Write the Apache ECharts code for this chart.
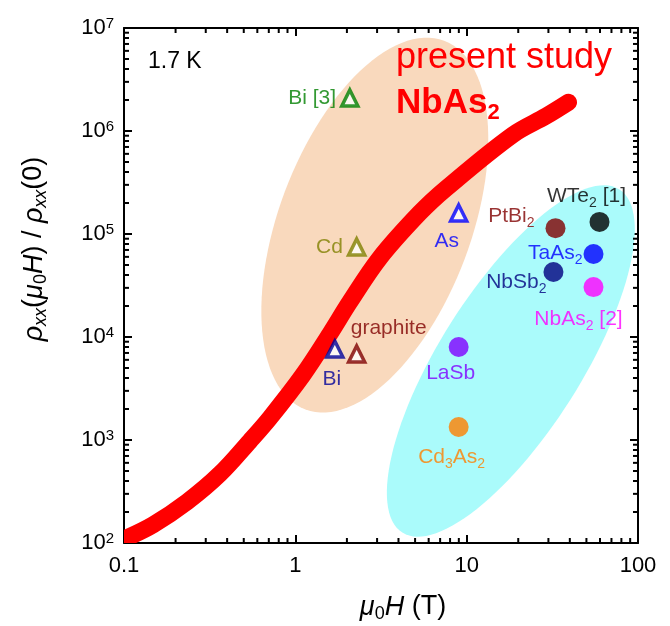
<!DOCTYPE html>
<html>
<head>
<meta charset="utf-8">
<script src="https://cdn.jsdelivr.net/npm/echarts@6/dist/echarts.min.js"></script>
<style>
  html, body { margin: 0; padding: 0; background: #fff; }
  #chart { width: 670px; height: 626px; }
</style>
</head>
<body>
<div id="chart"></div>
<script>
// Field sweep of NbAs2 at 1.7 K: magnetic field (T) and rho_xx(H)/rho_xx(0)
const sweepField = [0.1, 0.1476, 0.233, 0.363, 0.543, 0.71, 1.107, 1.59, 2.08, 3.11, 5.32, 7.64, 18.5, 29.2, 39.3];
const sweepRatio = [109, 150, 250, 468, 977, 1636, 4275, 10700, 21900, 58500, 160000, 280000, 914000, 1.4e6, 1.9e6];

// Semimetals from earlier reports (open triangles)
const triNames = ['Bi [3]', 'Cd', 'As', 'Bi', 'graphite'];
const triField = [2.08, 2.28, 8.98, 1.70, 2.28];
const triRatio = [2.09e6, 7.48e4, 1.6e5, 7640, 6840];

// Topological / Weyl semimetals (filled circles)
const dotNames = ['WTe{s|2} [1]', 'PtBi{s|2}', 'TaAs{s|2}', 'NbSb{s|2}', 'NbAs{s|2} [2]', 'LaSb', 'Cd{s|3}As{s|2}'];
const dotField = [59.6, 33.0, 55.0, 32.1, 55.0, 8.98, 8.98];
const dotRatio = [1.31e5, 1.14e5, 6.4e4, 4.28e4, 3.05e4, 8000, 1337];

// Shaded groupings: centre of each region
const regionField = [2.91, 18.1];
const regionRatio = [1.22e5, 5850];

// Axis tick labels
const xTickLabels = ['0.1', '1', '10', '100'];
const yTickExponents = ['2', '3', '4', '5', '6', '7'];
const minorMultipliers = [2, 3, 4, 5, 6, 7, 8, 9];
const xDecades = [0.1, 1, 10];
const yDecades = [1e2, 1e3, 1e4, 1e5, 1e6];

// ---- styling ----
const FONT = 'Liberation Sans, Arial, Helvetica, sans-serif';
const regionStyle = [
  { a: 197, b: 96, angle: 69.4, fill: '#F9D9BD' },
  { a: 203, b: 71, angle: 57.7, fill: '#AAFBFB' }
];
const triStyle = [
  { color: '#008000', pos: 'left',   align: 'right',  offset: [1, 0] },
  { color: '#808000', pos: 'left',   align: 'right',  offset: [1, 0] },
  { color: '#0000FF', pos: 'inside', align: 'center', offset: [-12, 28] },
  { color: '#000099', pos: 'inside', align: 'center', offset: [-3, 30] },
  { color: '#800000', pos: 'inside', align: 'center', offset: [32, -26] }
];
const dotStyle = [
  { color: '#000000', offset: [-13, -26], align: 'center' },
  { color: '#800000', offset: [-21, -12], align: 'right' },
  { color: '#0000FF', offset: [-11, -1], align: 'right' },
  { color: '#000080', offset: [-7, 10], align: 'right' },
  { color: '#FF00FF', offset: [-15, 32], align: 'center' },
  { color: '#8000FF', offset: [-8, 26], align: 'center' },
  { color: '#FF8000', offset: [-7, 30], align: 'center' }
];

const labelRich = {
  s: { fontSize: 14, lineHeight: 14, verticalAlign: 'bottom', fontFamily: FONT }
};

const chart = echarts.init(document.getElementById('chart'), null, { renderer: 'canvas' });

function minorList(decades) {
  const out = [];
  decades.forEach(d => minorMultipliers.forEach(m => out.push(m * d)));
  return out;
}
const xMinor = minorList(xDecades);
const yMinor = minorList(yDecades);

const axisBase = {
  type: 'log',
  logBase: 10,
  axisLine: { show: true, onZero: false, lineStyle: { color: '#000', width: 2 } },
  axisTick: { show: true, inside: true, length: 8, lineStyle: { color: '#000', width: 2 } },
  splitLine: { show: false },
  minorTick: { show: false }
};

function ellipseItem(params, api) {
  const st = regionStyle[params.dataIndex];
  const c = api.coord([api.value(0), api.value(1)]);
  const phi = st.angle * Math.PI / 180;
  const pts = [];
  for (let k = 0; k < 120; k++) {
    const t = k / 120 * Math.PI * 2;
    const ex = st.a * Math.cos(t), ey = st.b * Math.sin(t);
    pts.push([c[0] + ex * Math.cos(phi) - ey * Math.sin(phi),
              c[1] - (ex * Math.sin(phi) + ey * Math.cos(phi))]);
  }
  return { type: 'polygon', shape: { points: pts }, style: { fill: st.fill } };
}

// Sweep drawn as one thick smoothed stroke through the projected data points
function sweepItem(params, api) {
  if (params.dataIndexInside !== 0) return null;
  const pts = [];
  for (let i = 0; i < params.dataInsideLength; i++) {
    pts.push(api.coord([api.value(0, i), api.value(1, i)]));
  }
  return {
    type: 'polyline',
    shape: { points: pts, smooth: 0.35 },
    style: { stroke: '#FF0000', lineWidth: 17, fill: null, lineCap: 'round', lineJoin: 'round' }
  };
}

function xMinorTick(params, api) {
  const cs = params.coordSys;
  const x = api.coord([api.value(0), api.value(1)])[0];
  const s = { stroke: '#000', lineWidth: 2 };
  return { type: 'group', children: [
    { type: 'line', shape: { x1: x, y1: cs.y + cs.height, x2: x, y2: cs.y + cs.height - 5 }, style: s },
    { type: 'line', shape: { x1: x, y1: cs.y, x2: x, y2: cs.y + 5 }, style: s }
  ] };
}
function yMinorTick(params, api) {
  const cs = params.coordSys;
  const y = api.coord([api.value(0), api.value(1)])[1];
  const s = { stroke: '#000', lineWidth: 2 };
  return { type: 'group', children: [
    { type: 'line', shape: { x1: cs.x, y1: y, x2: cs.x + 5, y2: y }, style: s },
    { type: 'line', shape: { x1: cs.x + cs.width, y1: y, x2: cs.x + cs.width - 5, y2: y }, style: s }
  ] };
}

const option = {
  animation: false,
  backgroundColor: '#fff',
  grid: { left: 124, right: 32, top: 28, bottom: 83 },
  xAxis: [
    Object.assign({}, axisBase, {
      min: 0.1, max: 100, position: 'bottom',
      axisLabel: {
        margin: 12, fontSize: 22, color: '#000', fontFamily: FONT,
        formatter: (v, i) => xTickLabels[i]
      }
    }),
    Object.assign({}, axisBase, {
      min: 0.1, max: 100, position: 'top', axisLabel: { show: false }
    })
  ],
  yAxis: [
    Object.assign({}, axisBase, {
      min: 1e2, max: 1e7, position: 'left',
      axisLabel: {
        margin: 10, fontSize: 22, lineHeight: 24, color: '#000', fontFamily: FONT,
        formatter: (v, i) => '10{sup|' + yTickExponents[i] + '}',
        rich: { sup: { fontSize: 15, lineHeight: 14, verticalAlign: 'top', fontFamily: FONT, color: '#000' } }
      }
    }),
    Object.assign({}, axisBase, {
      min: 1e2, max: 1e7, position: 'right', axisLabel: { show: false }
    })
  ],
  series: [
    {
      type: 'custom', z: 1, silent: true,
      renderItem: ellipseItem,
      data: regionField.map((f, i) => [f, regionRatio[i]])
    },
    {
      type: 'custom', z: 2, silent: true, clip: true,
      renderItem: sweepItem,
      data: sweepField.map((f, i) => [f, sweepRatio[i]])
    },
    {
      type: 'scatter', z: 3, symbol: 'triangle', symbolSize: 16, silent: true,
      data: triNames.map((n, i) => ({
        value: [triField[i], triRatio[i]],
        itemStyle: { color: '#fff', borderColor: triStyle[i].color, borderWidth: 3.5 },
        label: {
          show: true, formatter: n, position: triStyle[i].pos, align: triStyle[i].align,
          offset: triStyle[i].offset, color: triStyle[i].color,
          fontSize: 21, fontFamily: FONT
        }
      }))
    },
    {
      type: 'scatter', z: 3, symbol: 'circle', symbolSize: 20, silent: true,
      data: dotNames.map((n, i) => ({
        value: [dotField[i], dotRatio[i]],
        itemStyle: { color: dotStyle[i].color },
        label: {
          show: true, formatter: n, position: 'inside', align: dotStyle[i].align,
          offset: dotStyle[i].offset, color: dotStyle[i].color,
          fontSize: 21, lineHeight: 28, fontFamily: FONT,
          rich: { s: Object.assign({ color: dotStyle[i].color }, labelRich.s) }
        }
      }))
    },
    {
      type: 'custom', z: 5, silent: true, renderItem: xMinorTick,
      data: xMinor.map(v => [v, 1e3])
    },
    {
      type: 'custom', z: 5, silent: true, renderItem: yMinorTick,
      data: yMinor.map(v => [1, v])
    }
  ],
  graphic: [
    {
      type: 'text', x: 148, y: 62, z: 10,
      style: { text: '1.7 K', font: '23px ' + FONT, fill: '#000',
               align: 'left', verticalAlign: 'middle', textAlign: 'left', textVerticalAlign: 'middle' }
    },
    {
      type: 'text', x: 396, y: 58.5, z: 10,
      style: { text: 'present study', font: '36px ' + FONT, fill: '#FF0000',
               align: 'left', verticalAlign: 'middle', textAlign: 'left', textVerticalAlign: 'middle' }
    },
    {
      type: 'text', x: 396, y: 103, z: 10,
      style: {
        text: '{b|NbAs}{bs|2}', fill: '#FF0000', font: 'bold 35px ' + FONT, lineHeight: 42,
        align: 'left', verticalAlign: 'middle', textAlign: 'left', textVerticalAlign: 'middle',
        rich: {
          b: { fontSize: 35, fontWeight: 'bold', fontFamily: FONT, fill: '#FF0000', color: '#FF0000', lineHeight: 42 },
          bs: { fontSize: 22, fontWeight: 'bold', fontFamily: FONT, fill: '#FF0000', color: '#FF0000', lineHeight: 22, verticalAlign: 'bottom' }
        }
      }
    },
    {
      type: 'text', x: 403, y: 607, z: 10,
      style: {
        text: '{i|μ}{s|0}{i|H} (T)', font: '27px ' + FONT, fill: '#000', lineHeight: 32,
        align: 'center', verticalAlign: 'middle', textAlign: 'center', textVerticalAlign: 'middle',
        rich: {
          i: { fontStyle: 'italic', fontSize: 27, fontFamily: FONT, lineHeight: 32 },
          s: { fontSize: 18, fontFamily: FONT, lineHeight: 18, verticalAlign: 'bottom' }
        }
      }
    },
    {
      type: 'text', x: 34, y: 249, z: 10, rotation: Math.PI / 2,
      style: {
        text: '{i|ρ}{si|xx}({i|μ}{s|0}{i|H}) / {i|ρ}{si|xx}(0)', font: '27px ' + FONT, fill: '#000', lineHeight: 32,
        align: 'center', verticalAlign: 'middle', textAlign: 'center', textVerticalAlign: 'middle',
        rich: {
          i: { fontStyle: 'italic', fontSize: 27, fontFamily: FONT, lineHeight: 32 },
          si: { fontStyle: 'italic', fontSize: 18, fontFamily: FONT, lineHeight: 18, verticalAlign: 'bottom' },
          s: { fontSize: 18, fontFamily: FONT, lineHeight: 18, verticalAlign: 'bottom' }
        }
      }
    }
  ]
};

chart.setOption(option);
</script>
</body>
</html>
